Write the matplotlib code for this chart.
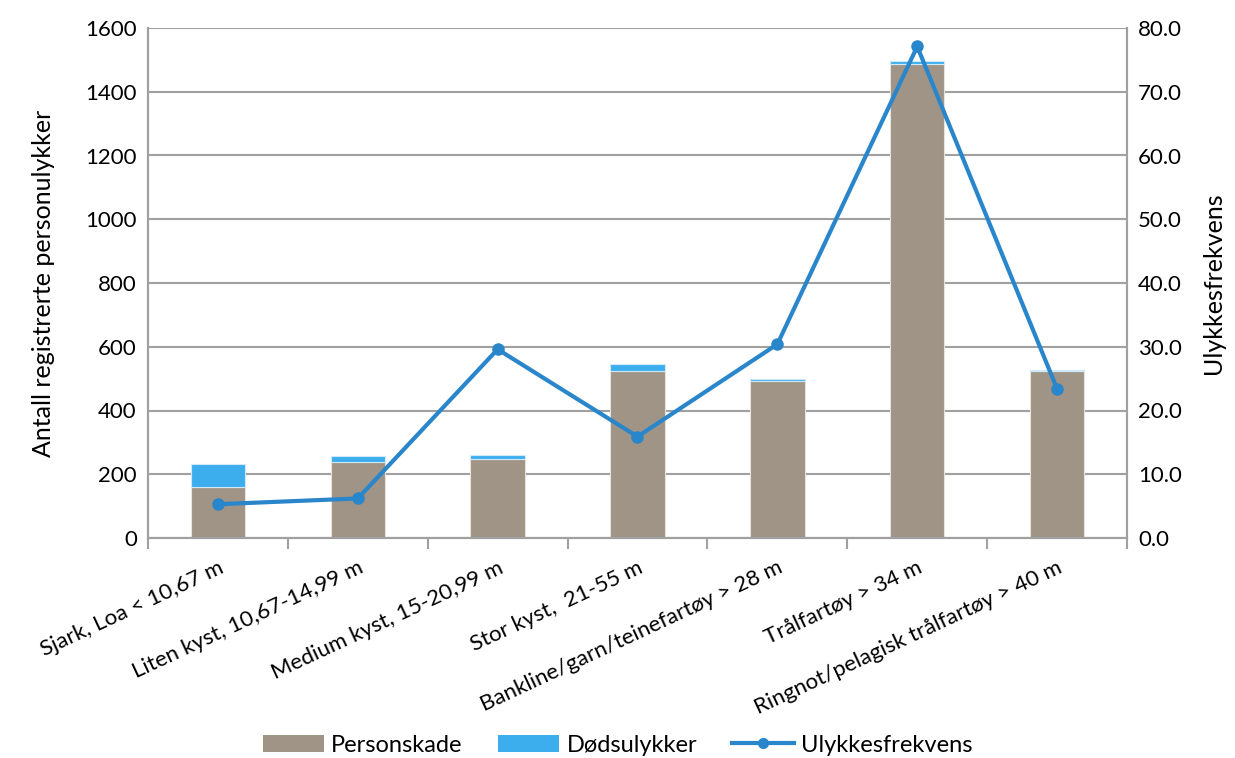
import matplotlib

matplotlib.use("Agg")
import matplotlib.pyplot as plt
import numpy as np
from matplotlib.lines import Line2D
from matplotlib.patches import Patch

categories = [
    "Sjark, Loa < 10,67 m",
    "Liten kyst, 10,67-14,99 m",
    "Medium kyst, 15-20,99 m",
    "Stor kyst,  21-55 m",
    "Bankline/garn/teinefartøy > 28 m",
    "Trålfartøy > 34 m",
    "Ringnot/pelagisk trålfartøy > 40 m",
]
personskade = [161, 240, 247, 523, 494, 1486, 523]
dodsulykker = [70, 17, 13, 24, 5, 11, 4]
frekvens = [5.3, 6.2, 29.6, 15.9, 30.4, 77.1, 23.4]

BROWN = "#a09486"
BLUE = "#3daeed"
LINE = "#2a86cb"
GRID = "#a0a0a0"

plt.rcParams["font.family"] = ["Lato", "DejaVu Sans"]
plt.rcParams["font.size"] = 16

fig = plt.figure(figsize=(12.35, 7.58), dpi=100)
ax = fig.add_axes([148 / 1235, 1 - 538 / 758, (1127 - 148) / 1235, (538 - 28) / 758])
ax2 = ax.twinx()

x = np.arange(len(categories))
width = 0.39
ax.bar(x, personskade, width, color=BROWN, edgecolor="#e6e2de", linewidth=0.8, zorder=2)
ax.bar(x, dodsulykker, width, bottom=personskade, color=BLUE, edgecolor="#cfe9f9",
       linewidth=0.8, zorder=2)
ax2.plot(x, frekvens, color=LINE, linewidth=3, marker="o", markersize=8, zorder=3)

ax.set_xlim(-0.5, len(categories) - 0.5)
ax.set_ylim(0, 1600)
ax.set_yticks(np.arange(0, 1601, 200))
ax2.set_ylim(0, 80)
ax2.set_yticks(np.arange(0, 81, 10))
ax2.set_yticklabels([f"{v:.1f}" for v in np.arange(0, 81, 10)])

ax.grid(axis="y", color=GRID, linewidth=1.5, zorder=0)
ax.set_axisbelow(True)

ax.set_xticks(x)
ax.set_xticklabels(categories, rotation=25, ha="right", rotation_mode="anchor")
ax.tick_params(axis="x", length=0, pad=14)
ax.set_xticks(np.arange(-0.5, len(categories), 1), minor=True)
ax.tick_params(axis="x", which="minor", length=8, width=1.5, color=GRID)
ax.tick_params(axis="y", length=0, pad=8)
ax2.tick_params(axis="y", length=0, pad=8)

for a in (ax, ax2):
    for side in ("left", "right", "bottom"):
        a.spines[side].set_color(GRID)
        a.spines[side].set_linewidth(1.5)
    a.spines["top"].set_visible(False)

ax.set_ylabel("Antall registrerte personulykker", fontsize=18, labelpad=22)
ax2.set_ylabel("Ulykkesfrekvens", fontsize=18, labelpad=14)

handles = [
    Patch(facecolor=BROWN, label="Personskade"),
    Patch(facecolor=BLUE, label="Dødsulykker"),
    Line2D([0], [0], color=LINE, linewidth=3, marker="o", markersize=7, label="Ulykkesfrekvens"),
]
fig.legend(handles=handles, loc="lower center", bbox_to_anchor=(0.5, -0.025), ncols=3,
           frameon=False, fontsize=17, handlelength=2.6, handletextpad=0.3,
           columnspacing=1.5)

fig.savefig("out.png", dpi=100, facecolor="white")
